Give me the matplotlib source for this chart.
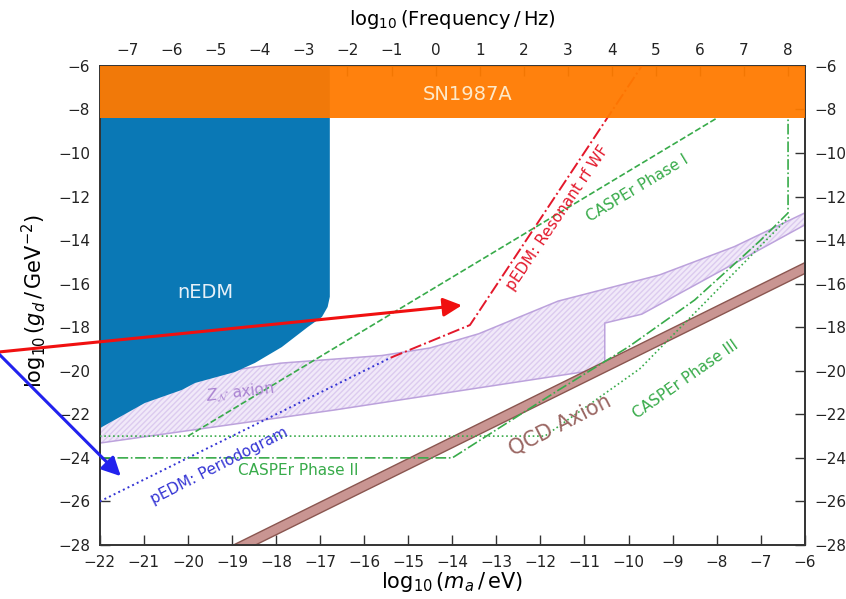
import matplotlib
matplotlib.use('Agg')
from matplotlib import pyplot as plt
from matplotlib.patches import Polygon

# log10 of m_a/eV -> log10 of frequency/Hz
hz_per_ev = 14.38

# SN1987A exclusion (everything above this coupling)
sn_lower = -8.4

# nEDM excluded region (outline)
nedm_x = [-22, -22, -16.78, -16.78, -16.83, -16.96, -17.28, -17.87, -18.48, -18.94, -19.84, -20.14, -20.98, -21.95]
nedm_y = [-22.65, -6, -6, -16.6, -17.07, -17.53, -17.99, -18.91, -19.64, -20.06, -20.56, -20.88, -21.48, -22.58]

# Z_N axion band
zn_upper_x = [-22, -19.4, -17.9, -15.6, -14.5, -13.4, -11.6, -9.3, -7.6, -6.0]
zn_upper_y = [-21.2, -20.1, -19.65, -19.3, -18.95, -18.3, -16.8, -15.6, -14.3, -12.75]
zn_lower_x = [-6.0, -9.7, -10.54, -10.54, -15.19, -16.67, -22]
zn_lower_y = [-13.3, -17.4, -17.81, -19.9, -21.34, -21.8, -23.32]

# QCD axion band
qcd_x = [-22, -6]
qcd_hi = [-31.0, -15.0]
qcd_lo = [-31.5, -15.5]

# pEDM projections
pgram_x = [-22, -15.4]
pgram_y = [-26, -19.4]
rf_x = [-15.4, -13.6, -9.7]
rf_y = [-19.4, -17.9, -6]

# CASPEr projections
ph1_x = [-20, -8.0]
ph1_y = [-23, -8.4]
ph2_x = [-22, -14, -11.6, -10.0, -8.5, -7.0, -6.38, -6.38]
ph2_y = [-24, -24, -20.9, -18.9, -16.75, -14.0, -12.75, -8.4]
ph3_x = [-22, -11.9, -9.74, -6.34]
ph3_y = [-23, -23, -19.9, -12.9]

green = '#38ab4a'
red = '#e3182b'
blue = '#3434d4'

fig = plt.figure(figsize=(8.46, 5.99), dpi=100)
ax = fig.add_axes([0.118, 0.0902, 0.8333, 0.7997])

# Z_N band: hatched fill + outline
zn_pts = list(zip(zn_upper_x + zn_lower_x, zn_upper_y + zn_lower_y))
ax.add_patch(Polygon(zn_pts, closed=True, facecolor='#f1e9f9', edgecolor='#dccbef',
                     hatch='//////', lw=0, zorder=1))
ax.add_patch(Polygon(zn_pts, closed=True, fill=False, edgecolor='#bca2dc', lw=1.1, zorder=1.1))

ax.fill(nedm_x, nedm_y, color='#0a78b5', lw=0, zorder=2)

ax.plot(pgram_x, pgram_y, ls=':', color=blue, lw=1.4, zorder=3)
ax.plot(rf_x, rf_y, ls='-.', color=red, lw=1.4, zorder=3)
ax.plot(ph1_x, ph1_y, ls='--', color=green, lw=1.2, zorder=3)
ax.plot(ph2_x, ph2_y, ls='-.', color=green, lw=1.2, zorder=3)
ax.plot(ph3_x, ph3_y, ls=':', color=green, lw=1.2, zorder=3)

ax.fill_between(qcd_x, qcd_lo, qcd_hi, facecolor='#c99592', edgecolor='#8a5650', lw=1.0, zorder=2.5)

ax.axhspan(sn_lower, -6, color='#ff7a00', alpha=0.95, lw=0, zorder=4)

ax.text(-13.65, -7.3, 'SN1987A', color='#fde9c9', fontsize=14, ha='center', va='center', zorder=5)
ax.text(-19.6, -16.4, 'nEDM', color='#e6f0f8', fontsize=14, ha='center', va='center', zorder=5)
ax.text(-18.82, -20.97, r'$Z_\mathcal{N}$ axion', color='#ab85d2', fontsize=11, rotation=7,
        ha='center', va='center', zorder=5)
ax.text(-19.28, -24.35, 'pEDM: Periodogram', color=blue, fontsize=11, rotation=27,
        ha='center', va='center', zorder=5)
ax.text(-11.6, -13.0, 'pEDM: Resonant rf WF', color=red, fontsize=11, rotation=56,
        ha='center', va='center', zorder=5)
ax.text(-9.8, -11.6, 'CASPEr Phase I', color=green, fontsize=11, rotation=31,
        ha='center', va='center', zorder=5)
ax.text(-17.5, -24.56, 'CASPEr Phase II', color=green, fontsize=11,
        ha='center', va='center', zorder=5)
ax.text(-8.7, -20.4, 'CASPEr Phase III', color=green, fontsize=11, rotation=35,
        ha='center', va='center', zorder=5)
ax.text(-11.55, -22.5, 'QCD Axion', color='#9a6662', fontsize=15, rotation=27,
        ha='center', va='center', zorder=5)

# pointers coming in from the left margin
ax.annotate('', xy=(-13.72, -16.98), xytext=(-24.6, -19.2), annotation_clip=False,
            arrowprops=dict(arrowstyle='-|>', color='#f01010', lw=2.2, mutation_scale=28), zorder=6)
ax.annotate('', xy=(-21.48, -24.93), xytext=(-24.6, -18.6), annotation_clip=False,
            arrowprops=dict(arrowstyle='-|>', color='#2222ee', lw=2.2, mutation_scale=28), zorder=6)

ax.set_xlim(-22, -6)
ax.set_ylim(-28, -6)
ax.set_xticks(range(-22, -5))
ax.set_yticks(range(-28, -5, 2))

for s in ax.spines.values():
    s.set_color('#333333')
    s.set_linewidth(1.4)

ax.tick_params(direction='in', length=7, width=1, colors='#333333', labelcolor='#222222',
               labelsize=11, pad=7, top=False, right=True, labelright=True)

top = ax.secondary_xaxis('top', functions=(lambda m: m + hz_per_ev, lambda f: f - hz_per_ev))
top.set_xticks(range(-7, 9))
top.tick_params(direction='in', length=7, width=1, colors='#333333', labelcolor='#222222',
                labelsize=11, pad=6)
top.set_xlabel(r'$\log_{10}(\mathrm{Frequency}\,/\,\mathrm{Hz})$', fontsize=14, labelpad=13)

ax.set_xlabel(r'$\log_{10}(m_a\,/\,\mathrm{eV})$', fontsize=15, labelpad=0)
ax.set_ylabel(r'$\log_{10}(g_d\,/\,\mathrm{GeV}^{-2})$', fontsize=15)
ax.yaxis.set_label_coords(-0.072, 0.51)

fig.savefig('out.png', dpi=100)
